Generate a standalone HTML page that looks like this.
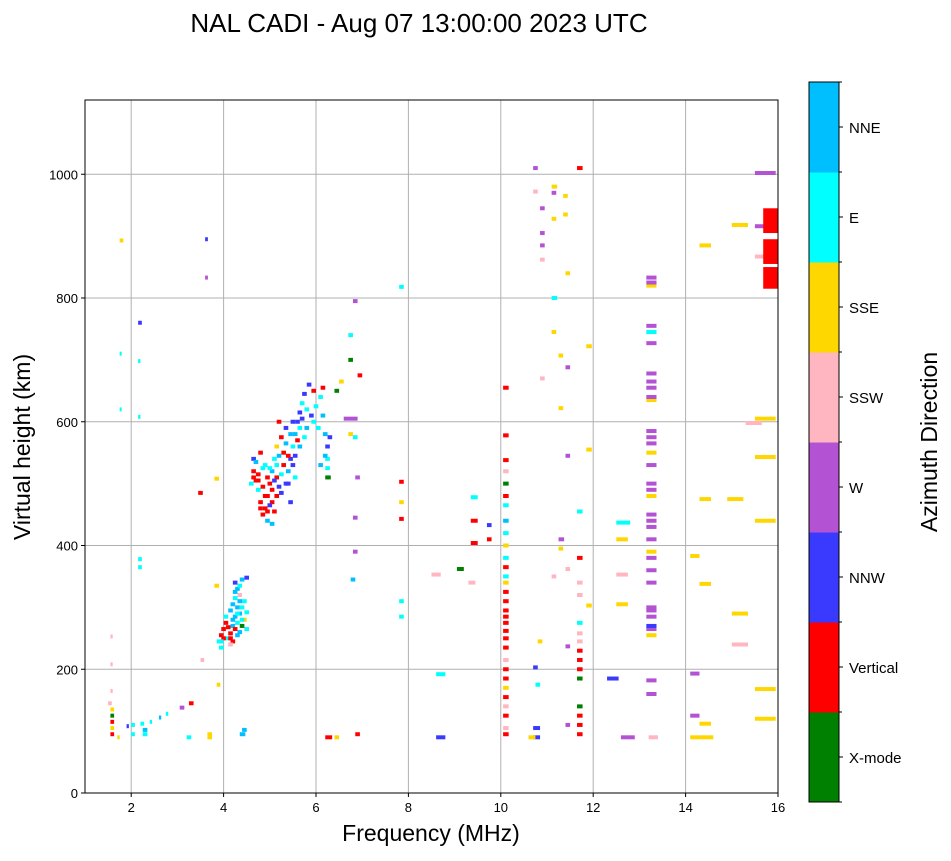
<!DOCTYPE html>
<html><head><meta charset="utf-8"><style>
body{margin:0;background:#fff;font-family:"Liberation Sans",sans-serif}
svg text{font-family:"Liberation Sans",sans-serif}
</style></head><body>
<svg id="chart" width="951" height="856" xmlns="http://www.w3.org/2000/svg">
<text x="419" y="32" font-size="26" text-anchor="middle">NAL CADI - Aug 07 13:00:00 2023 UTC</text>
<g id="grid"></g>
<g id="marks"></g>
<rect x="85" y="100" width="693" height="693" fill="none" stroke="#000" stroke-width="1"/>
<g id="axes"></g>
<text x="431" y="841" font-size="23" text-anchor="middle">Frequency (MHz)</text>
<text transform="translate(30,447) rotate(-90)" font-size="23" text-anchor="middle">Virtual height (km)</text>
<g id="cbar"></g>
<text transform="translate(937,442) rotate(-90)" font-size="23" text-anchor="middle">Azimuth Direction</text>
</svg>
<script>
const dirLabels=["X-mode","Vertical","NNW","W","SSW","SSE","E","NNE"];
const dirColors=["#008000","#ff0000","#3a3aff","#b452d4","#ffb6c1","#ffd700","#00ffff","#00bfff"];
const xTicks=[2,4,6,8,10,12,14,16];
const yTicks=[0,200,400,600,800,1000];
// [freq MHz, height km, span MHz, direction index]
const lowEchoes=[[1.55,95,.08,1],[1.55,105,.08,5],[1.55,115,.08,1],[1.55,125,.08,0],[1.55,135,.08,5],[1.5,145,.08,4],[1.55,165,.05,4],[1.55,208,.05,4],[1.55,253,.05,4],[1.7,90,.05,5],[1.9,108,.05,2],[2.0,95,.08,6],[2.0,110,.08,6],[2.25,95,.1,6],[2.25,102,.1,7],[2.2,112,.08,6],[2.4,115,.05,6],[2.6,122,.05,7],[2.75,128,.05,6],[3.05,138,.1,3],[3.25,145,.1,1],[3.2,90,.1,6],[3.65,90,.1,5],[3.65,95,.1,5],[3.85,175,.08,5],[3.8,335,.1,5],[3.8,508,.1,5],[3.45,485,.1,1],[3.5,215,.08,4],[2.15,365,.08,6],[2.15,378,.08,6],[2.15,608,.05,6],[2.15,698,.05,6],[2.15,760,.08,2],[1.75,620,.04,6],[1.75,710,.04,6],[1.75,893,.08,5],[3.6,833,.06,3],[3.6,895,.06,2],[4.35,95,.12,7],[4.4,102,.1,7]];
const eLayerEchoes=[[3.85,245,.1,6],[3.9,255,.1,1],[3.95,265,.1,1],[4.0,275,.1,1],[4.05,250,.1,6],[4.1,258,.1,1],[3.9,235,.1,6],[4.15,270,.1,7],[4.2,285,.1,7],[4.25,300,.1,7],[4.2,315,.1,6],[4.25,330,.1,7],[4.2,340,.1,2],[4.35,345,.1,7],[4.45,348,.1,2],[4.3,320,.1,4],[4.35,300,.1,6],[4.4,280,.1,5],[4.45,265,.1,6],[4.3,260,.1,7],[4.15,245,.1,1],[4.0,285,.1,6],[4.1,295,.1,7],[4.3,290,.1,7],[4.4,310,.1,6],[4.1,240,.1,4],[4.35,270,.1,0],[3.95,250,.1,1],[4.25,255,.1,7],[4.45,292,.1,6],[4.2,265,.1,1],[4.25,275,.1,6],[4.15,305,.1,7],[4.3,310,.1,7],[4.2,325,.1,7],[4.3,335,.1,6],[4.05,268,.1,1],[4.35,280,.1,6],[4.25,290,.1,6],[4.15,280,.1,7],[3.9,245,.1,6],[4.1,250,.1,1]];
const fLayerEchoes=[[4.6,520,.1,1],[4.65,505,.1,1],[4.7,490,.1,6],[4.75,470,.1,1],[4.8,450,.1,1],[4.85,460,.1,1],[4.9,480,.1,1],[4.95,500,.1,1],[5.0,520,.1,7],[5.05,540,.1,6],[5.1,510,.1,1],[5.15,495,.1,2],[5.2,485,.1,2],[5.0,470,.1,1],[4.9,440,.1,7],[5.3,500,.1,2],[5.35,520,.1,7],[5.4,540,.1,2],[5.45,560,.1,6],[5.5,580,.1,7],[5.55,600,.1,2],[5.6,615,.1,2],[5.65,630,.1,6],[5.7,645,.1,2],[5.8,660,.1,2],[5.9,650,.1,1],[5.6,560,.1,7],[5.7,575,.1,6],[5.75,590,.1,7],[5.85,610,.1,2],[5.95,625,.1,6],[6.05,640,.1,6],[6.15,580,.1,7],[6.2,560,.1,2],[6.2,540,.1,6],[6.2,510,.12,0],[6.2,525,.1,6],[6.05,530,.1,7],[4.6,540,.1,2],[4.75,550,.1,1],[4.85,530,.1,6],[5.1,560,.1,5],[5.2,575,.1,1],[5.3,590,.1,2],[5.4,470,.1,2],[5.25,530,.1,1],[4.7,505,.1,1],[5.5,510,.1,6],[5.15,600,.1,1],[4.55,500,.1,6],[5.0,435,.1,7],[6.1,655,.1,1],[6.4,650,.1,0],[6.5,665,.1,5],[6.6,605,.3,3],[6.7,580,.1,5],[6.8,575,.1,6],[6.85,510,.1,3],[6.8,445,.1,3],[6.8,390,.1,3],[6.75,345,.1,7],[6.9,675,.1,1],[6.8,795,.1,3],[6.7,740,.1,6],[6.7,700,.1,0],[6.2,90,.15,1],[6.85,95,.1,1],[6.4,90,.1,5],
[4.7,515,.1,1],[4.8,525,.1,6],[4.8,495,.1,1],[4.85,480,.1,1],[4.9,510,.1,1],[4.95,525,.1,6],[5.0,490,.1,1],[5.05,505,.1,2],[5.1,480,.1,1],[5.1,530,.1,6],[5.2,515,.1,6],[5.25,550,.1,1],[5.3,565,.1,7],[5.35,545,.1,1],[5.4,580,.1,7],[5.45,600,.1,2],[5.5,545,.1,2],[5.55,570,.1,1],[5.6,590,.1,6],[5.65,605,.1,2],[5.75,620,.1,6],[4.75,460,.1,1],[4.9,455,.1,1],[4.95,465,.1,2],[5.05,455,.1,1],[4.65,535,.1,7],[4.6,510,.1,1],[5.15,545,.1,7],[5.35,500,.1,2],[5.45,530,.1,2],[6.0,590,.1,6],[6.1,610,.1,7],[6.15,545,.1,7],[6.25,575,.1,2],[5.9,600,.1,6]];
const highEchoes=[[7.8,818,.1,6],[7.8,503,.1,1],[7.8,470,.1,5],[7.8,443,.1,1],[7.8,310,.1,6],[7.8,285,.1,6],[8.6,192,.2,6],[8.6,90,.2,2],[8.5,353,.2,4],[9.05,362,.15,0],[9.35,478,.15,6],[9.35,440,.15,1],[9.35,404,.15,1],[9.3,340,.15,4],[9.7,433,.1,2],[9.7,410,.1,1],[10.7,90,.15,2],[10.7,105,.15,2],[10.7,203,.1,2],[10.75,175,.1,6],[10.8,245,.1,5],[10.6,90,.15,5],[10.7,1010,.1,3],[10.7,972,.1,4],[10.85,945,.1,3],[10.85,905,.1,3],[10.85,885,.1,3],[10.85,862,.1,4],[10.85,670,.1,4],[11.1,980,.12,5],[11.1,970,.1,3],[11.1,928,.1,5],[11.1,800,.12,6],[11.1,745,.1,5],[11.25,707,.1,5],[11.25,622,.1,5],[11.35,965,.1,5],[11.35,935,.1,5],[11.4,840,.1,5],[11.4,688,.1,3],[11.4,545,.1,3],[11.25,410,.12,3],[11.25,395,.1,5],[11.1,350,.1,4],[11.4,362,.1,4],[11.4,237,.1,3],[11.4,110,.1,3],[11.85,303,.12,5],[11.85,555,.12,5],[11.85,722,.12,5],[12.3,185,.25,2],[12.5,437,.3,6],[12.5,410,.25,5],[12.5,353,.25,4],[12.5,305,.25,5],[12.6,90,.3,3],[13.2,90,.2,4],[14.1,193,.2,3],[14.1,125,.2,3],[14.1,90,.5,5],[14.1,383,.2,5],[14.3,885,.25,5],[14.3,475,.25,5],[14.3,338,.25,5],[14.3,112,.25,5],[15.0,918,.35,5],[14.9,475,.35,5],[15.0,290,.35,5],[15.0,240,.35,4],[15.3,598,.35,4],[15.5,1002,.45,3],[15.5,916,.45,3],[15.5,867,.45,4],[15.5,605,.45,5],[15.5,543,.45,5],[15.5,440,.45,5],[15.5,168,.45,5],[15.5,120,.45,5]];
const col10Heights=[95,105,125,140,155,170,185,200,215,235,250,262,275,285,295,310,325,340,350,365,380,400,420,440,465,480,500,520,538,578,655];
const col10Dirs=[1,4,1,4,1,5,1,1,4,1,1,1,1,1,1,1,1,5,6,1,6,5,6,7,6,1,0,4,1,1,1];
const col117Heights=[1010,455,380,340,320,275,258,245,230,215,200,185,140,125,110,95];
const col117Dirs=[1,6,1,4,4,6,4,4,1,1,1,0,0,1,1,1];
const col132Heights=[160,182,255,265,270,285,295,300,340,360,380,390,410,430,440,450,480,490,500,530,550,565,575,585,635,640,655,665,678,727,745,755,820,825,833];
const col132Dirs=[3,3,5,3,2,3,3,3,3,3,3,5,3,3,3,3,5,3,3,3,5,3,3,3,5,3,3,3,3,3,6,3,5,3,3];
const blockLow=[815,855,905];
const blockHigh=[850,895,945];
const blockFreq=[15.68,15.68,15.68];

const X0=85,X1=778,Y0=793,Y1=100,FMIN=1,FMAX=16,HMIN=0,HMAX=1120;
const xs=f=>X0+(f-FMIN)/(FMAX-FMIN)*(X1-X0);
const ys=h=>Y0-(h-HMIN)/(HMAX-HMIN)*(Y0-Y1);
const NS="http://www.w3.org/2000/svg";
function mk(tag,attrs,parent){const e=document.createElementNS(NS,tag);for(const k in attrs)e.setAttribute(k,attrs[k]);parent.appendChild(e);return e;}
const grid=document.getElementById('grid'),axes=document.getElementById('axes'),marks=document.getElementById('marks'),cbar=document.getElementById('cbar');
xTicks.forEach(t=>{const x=xs(t);
 const g=mk('line',{x1:x,x2:x,y1:Y1,y2:Y0,stroke:'#b0b0b0','stroke-width':1},grid);
 
 
 mk('line',{x1:x,x2:x,y1:Y0,y2:Y0+4,stroke:'#000'},axes);
 const tx=mk('text',{x:x,y:Y0+19,'font-size':13,'text-anchor':'middle'},axes);tx.textContent=t;
 
 });
yTicks.forEach(t=>{const y=ys(t);
 const g=mk('line',{x1:X0,x2:X1,y1:y,y2:y,stroke:'#b0b0b0','stroke-width':1},grid);
 
 
 mk('line',{x1:X0-4,x2:X0,y1:y,y2:y,stroke:'#000'},axes);
 const tx=mk('text',{x:X0-7,y:y+5,'font-size':13,'text-anchor':'end'},axes);tx.textContent=t;
 
 });
function drawEcho(f,h,s,d){const x=xs(f),y=ys(h);
 const r=mk('rect',{x:x,y:y-2,width:Math.max(2,xs(f+s)-x),height:4,fill:dirColors[d]},marks);
 
 }
[lowEchoes,eLayerEchoes,fLayerEchoes,highEchoes].forEach(a=>a.forEach(p=>drawEcho(p[0],p[1],p[2],p[3])));
col10Heights.forEach((h,i)=>drawEcho(10.05,h,.12,col10Dirs[i]));
col117Heights.forEach((h,i)=>drawEcho(11.65,h,.12,col117Dirs[i]));
col132Heights.forEach((h,i)=>drawEcho(13.15,h,.22,col132Dirs[i]));
blockLow.forEach((l,i)=>{const x=xs(blockFreq[i]);
 const r=mk('rect',{x:x,y:ys(blockHigh[i]),width:X1-x,height:ys(l)-ys(blockHigh[i]),fill:'#ff0000'},marks);
 
 });
const CX=809,CW=30,CT=82,CB=802,bh=(CB-CT)/dirLabels.length;
dirLabels.forEach((lab,i)=>{const yTop=CB-(i+1)*bh;
 const r=mk('rect',{x:CX,y:yTop,width:CW,height:bh+0.5,fill:dirColors[i]},cbar);
 
 
 mk('line',{x1:CX+CW,x2:CX+CW+4,y1:yTop+bh/2,y2:yTop+bh/2,stroke:'#000'},cbar);
 const tx=mk('text',{x:CX+CW+10,y:yTop+bh/2+6,'font-size':15},cbar);tx.textContent=lab;
 
 });
for(let i=0;i<=dirLabels.length;i++){const y=CB-i*bh;mk('line',{x1:CX+CW,x2:CX+CW+3,y1:y,y2:y,stroke:'#000'},cbar);}
mk('rect',{x:CX,y:CT,width:CW,height:CB-CT,fill:'none',stroke:'#000','stroke-width':1},cbar);
</script>
</body></html>
